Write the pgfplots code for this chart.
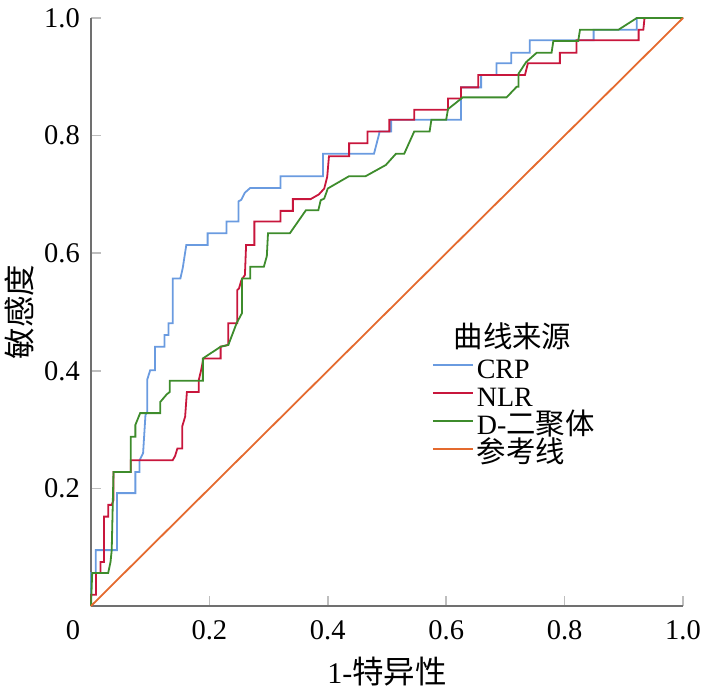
\documentclass[border=0pt]{standalone}
\usepackage{fontspec}
\setmainfont{Liberation Serif}
\newfontfamily\cjk[Scale=1.05]{Noto Sans CJK SC}
\usepackage{pgfplots}
\pgfplotsset{compat=1.18}
\definecolor{crp}{RGB}{106,155,224}
\definecolor{nlr}{RGB}{200,22,60}
\definecolor{ddim}{RGB}{62,140,44}
\definecolor{refl}{RGB}{228,106,46}
\definecolor{axgray}{RGB}{112,112,112}
\definecolor{tickgray}{RGB}{190,190,190}
\begin{document}
\begin{tikzpicture}
\begin{axis}[
  at={(0,0)}, anchor=south west,
  scale only axis, width=592bp, height=588bp,
  xmin=0, xmax=1, ymin=0, ymax=1, enlargelimits=false, clip=false,
  axis lines*=left,
  axis line style={draw=axgray, line width=2.4bp},
  tick align=inside, major tick length=10bp,
  tick style={draw=tickgray, line width=1.5bp},
  xtick={0.2,0.4,0.6,0.8,1.0}, xticklabels={0.2,0.4,0.6,0.8,1.0},
  ytick={0.2,0.4,0.6,0.8,1.0}, yticklabels={0.2,0.4,0.6,0.8,1.0},
  ticklabel style={font=\fontsize{28.5bp}{30bp}\selectfont},
  xticklabel style={anchor=base, yshift=-33bp, inner sep=0pt},
  yticklabel style={anchor=east, xshift=-11bp, inner sep=0pt},
  xlabel={1-{\cjk 特异性}}, ylabel={\cjk 敏感度},
  label style={font=\fontsize{30bp}{32bp}\selectfont},
  xlabel style={at={(axis description cs:0.5,-0.1310)}, anchor=base, inner sep=0pt},
  ylabel style={at={(axis description cs:-0.1216,0.5)}, anchor=center, inner sep=0pt},
  legend style={at={(axis cs:0.576,0.4682)}, anchor=north west, draw=none, fill=none,
    inner sep=0pt, outer sep=0pt, font=\fontsize{28bp}{30bp}\selectfont,
    row sep=2bp, column sep=3bp,
    nodes={inner sep=0pt, text height=20bp, text depth=6bp}},
  legend cell align=left,
  legend image code/.code={\draw[#1] (0bp,7bp) -- (40bp,7bp);},
]
\addlegendimage{empty legend}
\addlegendentry{\hspace*{-23bp}\raisebox{3bp}{\cjk 曲线来源}}

\addplot[crp, line width=1.8bp] coordinates {
(0,0) (0,0.056) (0.008,0.056) (0.008,0.095) (0.044,0.095) (0.044,0.192)
(0.075,0.192) (0.075,0.228) (0.082,0.228) (0.082,0.248) (0.088,0.26) (0.092,0.325)
(0.095,0.33) (0.095,0.385) (0.1,0.401) (0.108,0.401) (0.108,0.441) (0.124,0.441)
(0.124,0.461) (0.131,0.461) (0.131,0.481) (0.138,0.481) (0.138,0.557) (0.151,0.557)
(0.155,0.575) (0.161,0.614) (0.197,0.614) (0.197,0.634) (0.229,0.634) (0.229,0.654)
(0.249,0.654) (0.249,0.688) (0.254,0.691) (0.260,0.703) (0.269,0.711) (0.320,0.711)
(0.320,0.731) (0.392,0.731) (0.392,0.769) (0.478,0.769) (0.487,0.804) (0.487,0.807)
(0.507,0.807) (0.507,0.827) (0.625,0.827) (0.625,0.882) (0.659,0.882) (0.659,0.903)
(0.685,0.903) (0.685,0.923) (0.710,0.923) (0.710,0.941) (0.741,0.941) (0.741,0.962)
(0.849,0.962) (0.849,0.980) (0.922,0.980) (0.922,1.0) (1,1)
};
\addlegendentry{CRP}

\addplot[nlr, line width=1.8bp] coordinates {
(0,0) (0,0.019) (0.0085,0.019) (0.0085,0.056) (0.016,0.056) (0.016,0.075)
(0.022,0.075) (0.022,0.152) (0.029,0.152) (0.029,0.172) (0.035,0.172) (0.038,0.18)
(0.038,0.228) (0.067,0.228) (0.067,0.248) (0.138,0.248) (0.142,0.255) (0.146,0.268)
(0.154,0.268) (0.154,0.305) (0.159,0.322) (0.162,0.364) (0.182,0.364) (0.182,0.384)
(0.186,0.401) (0.190,0.421) (0.219,0.421) (0.219,0.441) (0.232,0.444) (0.232,0.481)
(0.247,0.481) (0.247,0.537) (0.250,0.540) (0.254,0.554) (0.260,0.563) (0.262,0.614)
(0.276,0.614) (0.276,0.654) (0.320,0.654) (0.320,0.672) (0.341,0.672) (0.341,0.692)
(0.371,0.692) (0.385,0.700) (0.394,0.71) (0.399,0.73) (0.402,0.765) (0.436,0.765)
(0.436,0.787) (0.467,0.787) (0.467,0.807) (0.504,0.807) (0.504,0.827) (0.546,0.827)
(0.546,0.844) (0.603,0.844) (0.603,0.863) (0.625,0.863) (0.625,0.882) (0.654,0.882)
(0.654,0.903) (0.733,0.903) (0.738,0.923) (0.792,0.923) (0.792,0.941) (0.820,0.941)
(0.820,0.962) (0.925,0.962) (0.925,0.980) (0.933,0.980) (0.935,1.0) (1,1)
};
\addlegendentry{NLR}

\addplot[ddim, line width=1.8bp] coordinates {
(0,0) (0.002,0.056) (0.029,0.056) (0.033,0.075) (0.035,0.095) (0.038,0.228)
(0.067,0.228) (0.067,0.288) (0.075,0.288) (0.075,0.308) (0.083,0.328) (0.117,0.328)
(0.117,0.347) (0.128,0.36) (0.133,0.364) (0.133,0.383) (0.189,0.383) (0.189,0.421)
(0.219,0.441) (0.232,0.444) (0.246,0.481) (0.255,0.498) (0.255,0.557) (0.269,0.557)
(0.269,0.577) (0.292,0.577) (0.297,0.595) (0.299,0.634) (0.336,0.634) (0.363,0.673)
(0.384,0.673) (0.388,0.69) (0.394,0.693) (0.400,0.710) (0.405,0.713) (0.436,0.731)
(0.464,0.731) (0.498,0.750) (0.515,0.769) (0.529,0.769) (0.546,0.807) (0.572,0.807)
(0.575,0.827) (0.600,0.827) (0.603,0.845) (0.628,0.865) (0.702,0.865) (0.719,0.883)
(0.722,0.883) (0.722,0.905) (0.735,0.925) (0.753,0.941) (0.778,0.941) (0.781,0.961)
(0.823,0.961) (0.826,0.980) (0.891,0.980) (0.922,1.0) (1,1)
};
\addlegendentry{D-{\cjk 二聚体}}

\addplot[refl, line width=1.8bp] coordinates {(0,0) (1,1)};
\addlegendentry{\cjk 参考线}

\node[anchor=base, inner sep=0pt, font=\fontsize{28.5bp}{30bp}\selectfont]
  at (axis cs:0,0) [xshift=-18bp, yshift=-33bp] {0};
\end{axis}
\pgfresetboundingbox
\path[use as bounding box] (-91bp,-80bp) rectangle (618bp,606bp);
\end{tikzpicture}
\end{document}
